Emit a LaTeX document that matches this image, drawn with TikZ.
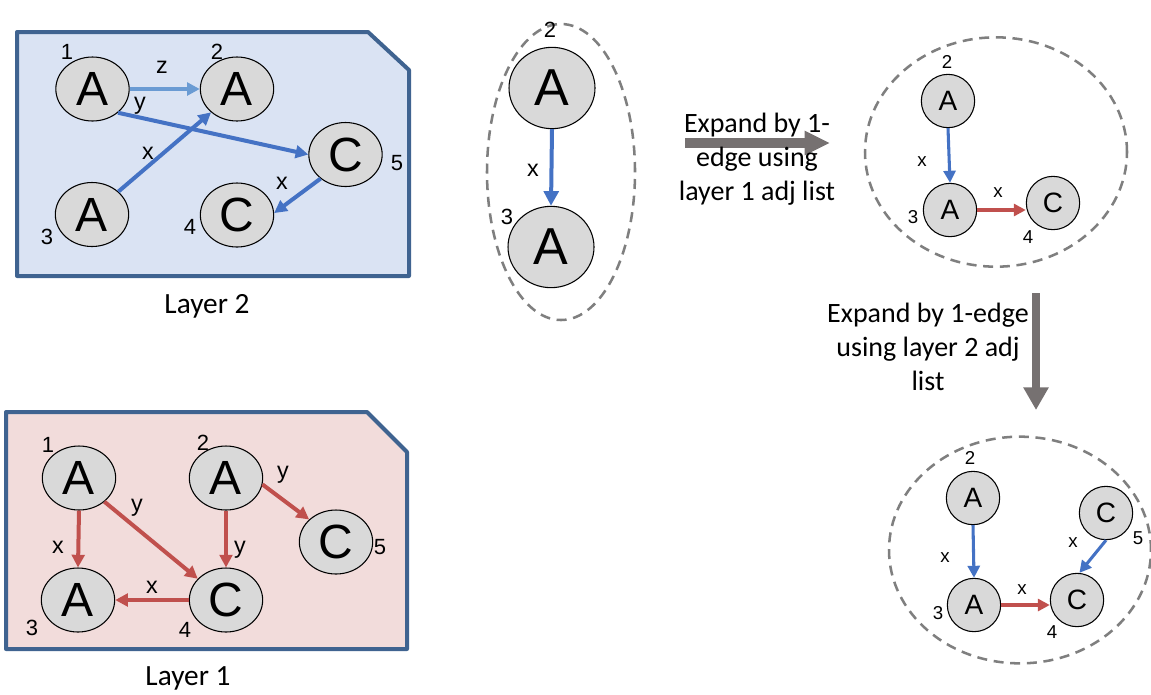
\documentclass[tikz,border=0pt]{standalone}
\usepackage{fontspec}
\setmainfont{Carlito}
\newfontfamily\arialfont{Liberation Sans}
\usetikzlibrary{arrows.meta,shapes.geometric}

\definecolor{layerborder}{HTML}{3F6390}
\definecolor{layertwofill}{HTML}{DAE3F3}
\definecolor{layeronefill}{HTML}{F2DCDB}
\definecolor{nodegray}{HTML}{D9D9D9}
\definecolor{edgeblue}{HTML}{4472C4}
\definecolor{edgelightblue}{HTML}{6A9BD3}
\definecolor{edgered}{HTML}{C0504D}
\definecolor{dashgray}{HTML}{7F7F7F}
\definecolor{bigarrow}{HTML}{767171}

\tikzset{
  layerbox/.style={draw=layerborder, line width=3pt, line join=round},
  vnode/.style={ellipse, draw=black, line width=0.8pt, fill=nodegray, inner sep=0pt,
    minimum width=55pt, minimum height=48pt, font=\arialfont\fontsize{36}{36}\selectfont},
  mnode/.style={ellipse, draw=black, line width=0.8pt, fill=nodegray, inner sep=0pt,
    minimum width=64.5pt, minimum height=61pt, font=\arialfont\fontsize{39}{39}\selectfont},
  snode/.style={circle, draw=black, line width=0.8pt, fill=nodegray, inner sep=0pt,
    minimum size=40pt, font=\arialfont\fontsize{21}{21}\selectfont},
  numlbl/.style={inner sep=0pt, font=\arialfont\fontsize{16.5}{16.5}\selectfont},
  edgelbl/.style={inner sep=0pt, font=\arialfont\fontsize{17.5}{17.5}\selectfont},
  smalllbl/.style={inner sep=0pt, font=\arialfont\fontsize{14}{14}\selectfont},
  caption/.style={inner sep=0pt, font=\fontsize{21}{25.5}\selectfont, align=center},
  layercap/.style={inner sep=0pt, font=\fontsize{22}{26}\selectfont},
  bigedge/.style={line width=3pt, -{Triangle[length=9.5pt,width=9.5pt]}},
  midedge/.style={line width=3pt, -{Triangle[length=11pt,width=11pt]}},
  smalledge/.style={line width=2.3pt, -{Triangle[length=9pt,width=9pt]}},
  group/.style={ellipse, draw=dashgray, line width=1.9pt, dash pattern=on 7.5pt off 5pt, inner sep=0pt},
  expand/.style={draw=bigarrow, line width=7.5pt, -{Triangle[length=19pt,width=17pt]}},
}

\begin{document}
\begin{tikzpicture}[x=0.75pt, y=-0.75pt]
\useasboundingbox (0,0) rectangle (1151,694);

% ---------------- Layer 2 ----------------
\draw[layerbox, fill=layertwofill] (17,32) -- (368,32) -- (409,70) -- (409,276) -- (17,276) -- cycle;
\node[vnode] (LtA1) at (92.5,89) {A};
\node[vnode] (LtA2) at (237,89) {A};
\node[vnode] (LtA3) at (92,214.5) {A};
\node[vnode] (LtC4) at (237,215) {C};
\node[vnode] (LtC5) at (345.5,154.5) {C};
\node[numlbl] (LtN1) at (67,52) {1};
\node[numlbl] (LtN2) at (217,52) {2};
\node[numlbl] (LtN3) at (47,237) {3};
\node[numlbl] (LtN4) at (190,227) {4};
\node[numlbl] (LtN5) at (397,163) {5};
\draw[bigedge, edgelightblue] (LtA1.east) -- (LtA2.west);
\draw[bigedge, edgeblue] (LtA1.-43) -- (LtC5.west);
\draw[bigedge, edgeblue] (LtA3.41) -- (LtA2.-138);
\draw[bigedge, edgeblue] (LtC5.224) -- (LtC4.3);
\node[edgelbl] (LtEz) at (162,67) {z};
\node[edgelbl] (LtEy) at (140,106) {y};
\node[edgelbl] (LtEx1) at (148,153) {x};
\node[edgelbl] (LtEx2) at (282,183) {x};
\node[layercap, anchor=base] (LtCap) at (207,313) {Layer 2};

% ---------------- Layer 1 ----------------
\draw[layerbox, fill=layeronefill] (6,412) -- (367,412) -- (407,452) -- (407,649) -- (6,649) -- cycle;
\node[vnode] (LoA1) at (79,478) {A};
\node[vnode] (LoA2) at (226,478) {A};
\node[vnode] (LoA3) at (78,600) {A};
\node[vnode] (LoC4) at (226,600) {C};
\node[vnode] (LoC5) at (336,542) {C};
\node[numlbl] (LoN1) at (48,445) {1};
\node[numlbl] (LoN2) at (203,443) {2};
\node[numlbl] (LoN3) at (32,628) {3};
\node[numlbl] (LoN4) at (185,630) {4};
\node[numlbl] (LoN5) at (380,547) {5};
\draw[bigedge, edgered] (LoA1.south) -- (LoA3.north);
\draw[bigedge, edgered] (LoA1.-43) -- (LoC4.143);
\draw[bigedge, edgered] (LoA2.south) -- (LoC4.north);
\draw[bigedge, edgered] (LoA2.-10) -- (LoC5.140);
\draw[bigedge, edgered] (LoC4.west) -- (LoA3.east);
\node[edgelbl] (LoEx1) at (58,547) {x};
\node[edgelbl] (LoEy1) at (137,508) {y};
\node[edgelbl] (LoEy2) at (240,550) {y};
\node[edgelbl] (LoEy3) at (283,475) {y};
\node[edgelbl] (LoEx2) at (152,587) {x};
\node[layercap, anchor=base] (LoCap) at (188,685) {Layer 1};

% ---------------- Seed pattern ----------------
\node[group, minimum width=111pt, minimum height=222pt] (Seed) at (561,172) {};
\node[mnode] (SA2) at (552,88) {A};
\node[mnode] (SA3) at (551,247) {A};
\node[numlbl] (SN2) at (550,30) {2};
\node[numlbl] (SN3) at (507,217) {3};
\draw[midedge, edgeblue] (SA2.south) -- (SA3.north);
\node[edgelbl] (SEx) at (533,170) {x};

% ---------------- First expansion ----------------
\coordinate (ExpOneFrom) at (685,143);
\coordinate (ExpOneTo) at (830,143);
\draw[expand] (ExpOneFrom) -- (ExpOneTo);
\node[caption, anchor=north] (ExpOneText) at (757,113) {Expand by 1-\\edge using\\layer 1 adj list};

\node[group, minimum width=196.5pt, minimum height=172pt] (StepOne) at (996,152) {};
\node[snode] (OA2) at (948,101) {A};
\node[snode] (OA3) at (950,210) {A};
\node[snode] (OC4) at (1053,203) {C};
\node[smalllbl] (ON2) at (947,62) {2};
\node[smalllbl] (ON3) at (913,217) {3};
\node[smalllbl] (ON4) at (1028,237) {4};
\draw[smalledge, edgeblue] (OA2.south) -- (OA3.north);
\draw[smalledge, edgered] (OA3.east) -- (OC4.west |- OA3.east);
\node[smalllbl] (OEx1) at (922,162) {x};
\node[smalllbl] (OEx2) at (998,193) {x};

% ---------------- Second expansion ----------------
\coordinate (ExpTwoFrom) at (1036,293);
\coordinate (ExpTwoTo) at (1036,410);
\draw[expand, line width=6.5pt, -{Triangle[length=17pt,width=18pt]}] (ExpTwoFrom) -- (ExpTwoTo);
\node[caption, anchor=north] (ExpTwoText) at (928,303) {Expand by 1-edge\\using layer 2 adj\\list};

\node[group, minimum width=196.5pt, minimum height=170pt] (StepTwo) at (1020,550) {};
\node[snode] (TA2) at (973,498) {A};
\node[snode] (TA3) at (974,605) {A};
\node[snode] (TC4) at (1077,600) {C};
\node[snode] (TC5) at (1106,513) {C};
\node[smalllbl] (TN2) at (970,458) {2};
\node[smalllbl] (TN3) at (938,613) {3};
\node[smalllbl] (TN4) at (1052,632) {4};
\node[smalllbl] (TN5) at (1138,538) {5};
\draw[smalledge, edgeblue] (TA2.south) -- (TA3.north);
\draw[smalledge, edgered] (TA3.east) -- (TC4.west |- TA3.east);
\draw[smalledge, edgeblue] (TC5.south) -- (TC4.85);
\node[smalllbl] (TEx1) at (945,558) {x};
\node[smalllbl] (TEx2) at (1022,590) {x};
\node[smalllbl] (TEx3) at (1073,543) {x};
\end{tikzpicture}
\end{document}
